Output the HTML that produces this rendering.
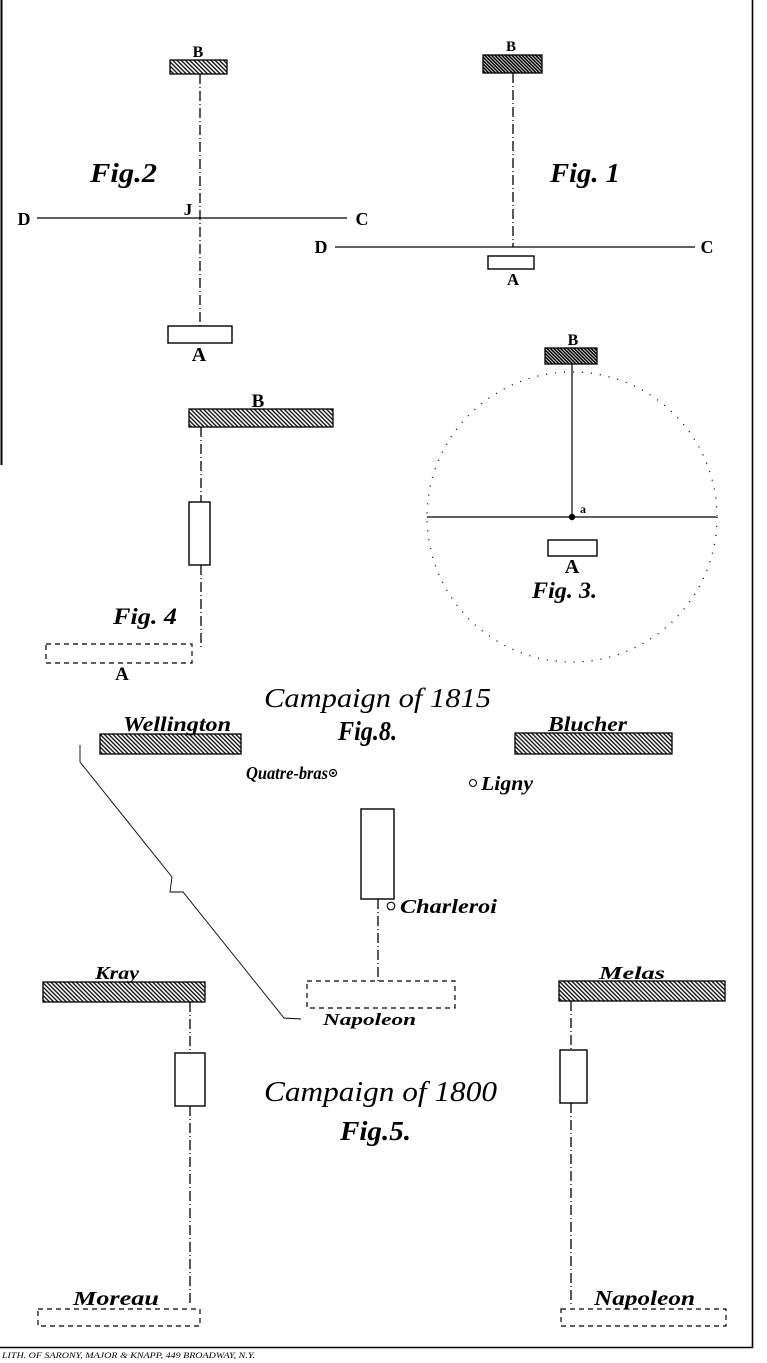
<!DOCTYPE html>
<html>
<head>
<meta charset="utf-8">
<style>
html,body{margin:0;padding:0;background:#fff;}
svg{display:block;}
.L{font-family:"Liberation Serif",serif;font-weight:bold;fill:#000;}
.S{font-family:"Liberation Serif",serif;font-style:italic;font-weight:bold;fill:#000;}
.T{font-family:"Liberation Serif",serif;font-style:italic;fill:#000;}
</style>
</head>
<body>
<svg width="767" height="1363" viewBox="0 0 767 1363" xmlns="http://www.w3.org/2000/svg">
<defs>
  <pattern id="h" width="3" height="3" patternUnits="userSpaceOnUse" patternTransform="rotate(-45)">
    <rect width="3" height="3" fill="#fff"/>
    <line x1="1.5" y1="0" x2="1.5" y2="3" stroke="#000" stroke-width="1.3"/>
  </pattern>
  <pattern id="hd" width="2.4" height="2.4" patternUnits="userSpaceOnUse" patternTransform="rotate(-45)">
    <rect width="2.4" height="2.4" fill="#fff"/>
    <line x1="1.2" y1="0" x2="1.2" y2="2.4" stroke="#000" stroke-width="1.6"/>
  </pattern>
</defs>

<!-- borders -->
<line x1="1.5" y1="0" x2="1.5" y2="465" stroke="#000" stroke-width="2"/>
<line x1="752.5" y1="0" x2="752.5" y2="1348" stroke="#000" stroke-width="1.6"/>
<line x1="0" y1="1347.5" x2="753" y2="1347.5" stroke="#000" stroke-width="1.4"/>
<text class="T" x="2" y="1358" font-size="8" textLength="253" lengthAdjust="spacingAndGlyphs">LITH. OF SARONY, MAJOR &amp; KNAPP, 449 BROADWAY, N.Y.</text>

<g fill="none" stroke="#000">
  <!-- Fig 2 -->
  <line x1="200" y1="74" x2="200" y2="326" stroke-width="1.3" stroke-dasharray="10 3 1 3"/>
  <line x1="37" y1="218" x2="347" y2="218" stroke-width="1.2"/>
  <!-- Fig 1 -->
  <line x1="513" y1="73" x2="513" y2="247" stroke-width="1.3" stroke-dasharray="10 3 1 3"/>
  <line x1="335" y1="247" x2="695" y2="247" stroke-width="1.2"/>
  <!-- Fig 3 -->
  <line x1="572" y1="364" x2="572" y2="517" stroke-width="1.2"/>
  <line x1="427" y1="517" x2="716" y2="517" stroke-width="1.2"/>
  <circle cx="572" cy="517" r="145" stroke-width="1.3" stroke-dasharray="1 8"/>
  <!-- Fig 4 -->
  <line x1="201" y1="427" x2="201" y2="502" stroke-width="1.3" stroke-dasharray="10 3 1 3"/>
  <line x1="201" y1="565" x2="201" y2="647" stroke-width="1.3" stroke-dasharray="10 3 1 3"/>
  <!-- Fig 8 -->
  <line x1="378" y1="899" x2="378" y2="981" stroke-width="1.3" stroke-dasharray="10 3 1 3"/>
  <polyline points="80,745 80,762 172,877 170,892 183,892 284,1018 301,1019" stroke-width="0.9"/>
  <!-- Fig 5 -->
  <line x1="190" y1="1002" x2="190" y2="1053" stroke-width="1.3" stroke-dasharray="10 3 1 3"/>
  <line x1="190" y1="1106" x2="190" y2="1305" stroke-width="1.3" stroke-dasharray="10 3 1 3"/>
  <line x1="571" y1="1001" x2="571" y2="1050" stroke-width="1.3" stroke-dasharray="10 3 1 3"/>
  <line x1="571" y1="1103" x2="571" y2="1305" stroke-width="1.3" stroke-dasharray="10 3 1 3"/>
</g>

<!-- hatched boxes -->
<g stroke="#000" stroke-width="1.3">
  <rect x="170" y="60" width="57" height="14" fill="url(#h)"/>
  <rect x="483" y="55" width="59" height="18" fill="url(#hd)"/>
  <rect x="545" y="348" width="52" height="16" fill="url(#hd)"/>
  <rect x="189" y="409" width="144" height="18" fill="url(#h)"/>
  <rect x="100" y="734" width="141" height="20" fill="url(#h)"/>
  <rect x="515" y="733" width="157" height="21" fill="url(#h)"/>
  <rect x="43" y="982" width="162" height="20" fill="url(#h)"/>
  <rect x="559" y="981" width="166" height="20" fill="url(#h)"/>
</g>

<!-- open boxes -->
<g stroke="#000" stroke-width="1.4" fill="#fff">
  <rect x="168" y="326" width="64" height="17"/>
  <rect x="488" y="256" width="46" height="13"/>
  <rect x="548" y="540" width="49" height="16"/>
  <rect x="189" y="502" width="21" height="63"/>
  <rect x="361" y="809" width="33" height="90"/>
  <rect x="175" y="1053" width="30" height="53"/>
  <rect x="560" y="1050" width="27" height="53"/>
</g>

<!-- dashed boxes -->
<g stroke="#000" stroke-width="1.2" fill="none" stroke-dasharray="5 4">
  <rect x="46" y="644" width="146" height="19"/>
  <rect x="307" y="981" width="148" height="27"/>
  <rect x="38" y="1309" width="162" height="17"/>
  <rect x="561" y="1309" width="165" height="17"/>
</g>

<!-- small markers -->
<circle cx="572" cy="517" r="3.2" fill="#000"/>
<circle cx="473" cy="783" r="3.5" fill="none" stroke="#000" stroke-width="1.1"/>
<circle cx="391" cy="906" r="3.8" fill="none" stroke="#000" stroke-width="1.1"/>

<!-- letter labels -->
<g class="L" text-anchor="middle">
  <text x="198" y="57" font-size="16">B</text>
  <text x="188" y="215" font-size="17">J</text>
  <text x="24" y="225" font-size="18">D</text>
  <text x="362" y="225" font-size="18">C</text>
  <text x="199" y="361" font-size="20">A</text>

  <text x="511" y="51" font-size="15">B</text>
  <text x="321" y="253" font-size="18">D</text>
  <text x="707" y="253" font-size="18">C</text>
  <text x="513" y="285" font-size="17">A</text>

  <text x="573" y="345" font-size="16">B</text>
  <text x="583" y="513" font-size="12">a</text>
  <text x="572" y="573" font-size="20">A</text>

  <text x="258" y="407" font-size="19">B</text>
  <text x="122" y="680" font-size="19">A</text>
</g>

<!-- figure captions -->
<g class="S">
  <text x="90" y="182" font-size="27" textLength="67" lengthAdjust="spacingAndGlyphs">Fig.2</text>
  <text x="550" y="182" font-size="27" textLength="70" lengthAdjust="spacingAndGlyphs">Fig. 1</text>
  <text x="532" y="598" font-size="23" textLength="65" lengthAdjust="spacingAndGlyphs">Fig. 3.</text>
  <text x="113" y="624" font-size="23" textLength="64" lengthAdjust="spacingAndGlyphs">Fig. 4</text>
  <text x="338" y="740" font-size="27" textLength="59" lengthAdjust="spacingAndGlyphs">Fig.8.</text>
  <text x="340" y="1140" font-size="27" textLength="71" lengthAdjust="spacingAndGlyphs">Fig.5.</text>
</g>
<g class="T">
  <text x="264" y="707" font-size="27" textLength="227" lengthAdjust="spacingAndGlyphs">Campaign of 1815</text>
  <text x="264" y="1101" font-size="29" textLength="233" lengthAdjust="spacingAndGlyphs">Campaign of 1800</text>
</g>

<!-- name labels -->
<g class="S">
  <text x="123" y="731" font-size="21" textLength="108" lengthAdjust="spacingAndGlyphs">Wellington</text>
  <text x="548" y="731" font-size="21" textLength="79" lengthAdjust="spacingAndGlyphs">Blucher</text>
  <text x="246" y="779" font-size="18" textLength="82" lengthAdjust="spacingAndGlyphs">Quatre-bras</text>
  <text x="481" y="790" font-size="20" textLength="52" lengthAdjust="spacingAndGlyphs">Ligny</text>
  <text x="400" y="913" font-size="20" textLength="97" lengthAdjust="spacingAndGlyphs">Charleroi</text>
  <text x="323" y="1025" font-size="17" textLength="93" lengthAdjust="spacingAndGlyphs">Napoleon</text>
  <text x="95" y="979" font-size="18" textLength="44" lengthAdjust="spacingAndGlyphs">Kray</text>
  <text x="599" y="979" font-size="18" textLength="66" lengthAdjust="spacingAndGlyphs">Melas</text>
  <text x="73" y="1305" font-size="20" textLength="86" lengthAdjust="spacingAndGlyphs">Moreau</text>
  <text x="594" y="1305" font-size="21" textLength="101" lengthAdjust="spacingAndGlyphs">Napoleon</text>
</g>
<circle cx="333" cy="773" r="3.5" fill="none" stroke="#000" stroke-width="1.2"/>
<circle cx="333" cy="773" r="1.3" fill="#000"/>
</svg>
</body>
</html>
